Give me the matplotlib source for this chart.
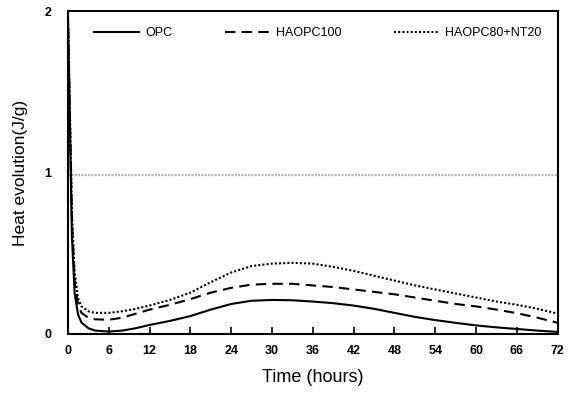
import matplotlib
matplotlib.use("Agg")
import matplotlib.pyplot as plt

plt.rcParams["font.family"] = ["Liberation Sans", "DejaVu Sans"]

# time axis (hours)
hours = [0, 0.3, 0.6, 1, 1.5, 2, 3, 4, 6, 8, 10, 12, 15, 18, 21, 24, 27, 30, 33,
         36, 39, 42, 45, 48, 51, 54, 57, 60, 63, 66, 69, 72]

opc = [2.0, 1.3, 0.6, 0.25, 0.12, 0.07, 0.035, 0.02, 0.014, 0.02, 0.035, 0.055,
       0.08, 0.11, 0.15, 0.185, 0.205, 0.21, 0.208, 0.2, 0.19, 0.175, 0.155,
       0.13, 0.105, 0.085, 0.068, 0.052, 0.04, 0.03, 0.02, 0.012]

haopc100 = [2.0, 1.35, 0.7, 0.32, 0.18, 0.13, 0.1, 0.09, 0.087, 0.1, 0.125, 0.15,
            0.18, 0.215, 0.255, 0.285, 0.305, 0.31, 0.31, 0.3, 0.29, 0.275, 0.26,
            0.245, 0.225, 0.205, 0.185, 0.17, 0.15, 0.128, 0.1, 0.068]

haopc80_nt20 = [2.0, 1.4, 0.75, 0.38, 0.22, 0.17, 0.14, 0.13, 0.13, 0.14, 0.155,
                0.175, 0.21, 0.255, 0.32, 0.38, 0.42, 0.435, 0.44, 0.435, 0.415,
                0.39, 0.36, 0.33, 0.3, 0.275, 0.25, 0.225, 0.2, 0.18, 0.155, 0.125]

ref_level = 0.985
x_ticks = list(range(0, 73, 6))
y_ticks = [0, 1, 2]

fig = plt.figure(figsize=(5.75, 3.96), dpi=100)
ax = fig.add_axes([0.118, 0.157, 0.852, 0.815])

ax.axhline(ref_level, color="#bbbbbb", linewidth=1.6, linestyle=(0, (1, 0.5)))
ax.plot(hours, opc, color="black", linewidth=1.5, label="OPC")
ax.plot(hours, haopc100, color="black", linewidth=1.5, linestyle=(0, (5, 3)),
        label="HAOPC100")
ax.plot(hours, haopc80_nt20, color="black", linewidth=1.5, linestyle=(0, (1, 1)),
        label="HAOPC80+NT20")

ax.set_xlim(0, 72)
ax.set_ylim(0, 2)
ax.set_xticks(x_ticks)
ax.set_yticks(y_ticks)
ax.tick_params(axis="x", direction="in", length=5, width=1.2, pad=8, labelsize=9)
ax.tick_params(axis="y", length=0, pad=12, labelsize=9)
for lab in ax.get_xticklabels() + ax.get_yticklabels():
    lab.set_fontweight("bold")
for s in ax.spines.values():
    s.set_linewidth(1.5)

ax.set_xlabel("Time (hours)", fontsize=13, labelpad=9)
ax.set_ylabel("Heat evolution(J/g)", fontsize=12.5, labelpad=12)

leg = ax.legend(loc="upper center", ncol=3, frameon=False, fontsize=9,
                handlelength=3.6, handletextpad=0.5, columnspacing=4.2,
                bbox_to_anchor=(0.51, 0.985))

fig.savefig("out.png", dpi=100)
